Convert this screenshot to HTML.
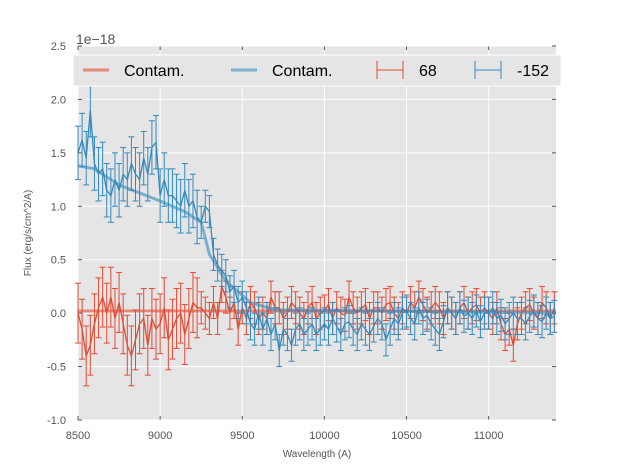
<!DOCTYPE html>
<html><head><meta charset="utf-8"><style>
body{margin:0;background:#fff;font-family:"Liberation Sans",sans-serif}
svg text{font-family:"Liberation Sans",sans-serif}
</style></head><body>
<svg id="c" width="617" height="467"></svg>
<script>
const blueFlux=[1.5,1.62,1.45,1.9,1.4,1.3,1.35,1.15,1.1,1.25,
1.15,1.3,1.25,1.4,1.3,1.25,1.45,1.3,1.55,1.6,
1.1,1.25,1.1,1.1,1.05,1.0,1.15,1.0,1.05,0.9,
0.85,1.0,0.95,0.55,0.45,0.4,0.35,0.2,0.25,0.1,
0.15,0.05,-0.1,-0.15,0.0,-0.15,-0.05,-0.2,-0.1,-0.35,
-0.15,-0.2,-0.3,-0.15,-0.1,-0.2,-0.15,-0.1,-0.2,-0.15,
-0.1,-0.15,-0.05,-0.12,-0.2,-0.1,-0.08,-0.15,-0.2,-0.1,
-0.15,-0.2,-0.12,-0.05,-0.1,-0.25,-0.15,-0.05,-0.1,0.0,
0.02,-0.05,-0.1,0.05,-0.05,-0.02,-0.1,-0.15,-0.2,-0.08,
0.05,0.0,-0.05,0.05,-0.03,0.0,-0.05,0.02,-0.08,0.0,
0.0,0.05,-0.05,-0.02,-0.1,-0.05,0.0,-0.05,-0.05,-0.1,
-0.03,0.02,-0.05,-0.08,0.0,-0.05,-0.03];
const redFlux=[0.0,-0.15,-0.4,-0.3,-0.1,0.05,0.15,0.0,0.15,-0.05,
0.1,-0.1,-0.3,-0.4,-0.25,-0.1,-0.05,-0.3,-0.05,-0.15,
-0.1,0.05,-0.25,-0.15,-0.05,0.0,-0.2,-0.05,0.1,0.05,
0.05,0.0,-0.05,0.1,-0.05,0.25,0.15,0.0,0.1,-0.15,
0.05,-0.05,0.1,0.05,-0.05,0.0,-0.05,0.15,0.05,0.05,
-0.05,0.0,0.1,0.05,0.0,-0.05,0.05,0.1,-0.05,0.0,
0.02,0.08,-0.05,0.05,0.0,-0.02,0.15,0.05,0.0,0.05,
0.08,-0.05,0.05,0.05,0.0,0.08,0.1,0.0,-0.05,0.05,
0.0,0.1,0.05,0.15,0.08,0.0,0.05,0.1,0.05,-0.05,
0.05,0.0,-0.05,0.05,0.1,0.0,0.05,0.08,0.0,0.05,
0.0,-0.05,0.05,-0.1,-0.2,-0.15,-0.3,-0.1,0.0,0.05,
0.08,0.0,-0.05,0.1,0.05,-0.05,0.05];
const blueErr=[0.25,0.15];
const redErr=[0.28,0.15];
const contamWave=[8500,8600,8750,9000,9150,9250,9300,9400,9550,9700,11410];
const blueContam=[1.38,1.35,1.2,1.05,0.95,0.85,0.55,0.3,0.1,0.03,0.0];
const redContam=[0.02,0.02];
const xTicks=[8500,9000,9500,10000,10500,11000];
const yTicks=[-1.0,-0.5,0.0,0.5,1.0,1.5,2.0,2.5];
const wave0=8500, step=25;

const NS="http://www.w3.org/2000/svg", svg=document.getElementById('c');
const L=78,R=556,T=46,B=420, X0=8500,X1=11410,Y0=-1,Y1=2.5;
const sx=v=>L+(v-X0)/(X1-X0)*(R-L), sy=v=>B-(v-Y0)/(Y1-Y0)*(B-T);
function el(t,a,p){const e=document.createElementNS(NS,t);for(const k in a)e.setAttribute(k,a[k]);(p||svg).appendChild(e);return e;}
const bg=el('rect',{x:L,y:T,width:R-L,height:B-T,fill:'#e5e5e5'});


xTicks.forEach(v=>{const x=sx(v);
 const g=el('line',{x1:x,x2:x,y1:T,y2:B,stroke:'#fff','stroke-width':1});
 
 
 el('line',{x1:x,x2:x,y1:B,y2:B-4,stroke:'#555'});el('line',{x1:x,x2:x,y1:T,y2:T+4,stroke:'#555'});
 const t=el('text',{x:x,y:B+19,'text-anchor':'middle','font-size':11,fill:'#555'});t.textContent=v;
 
 });
yTicks.forEach(v=>{const y=sy(v);
 const g=el('line',{x1:L,x2:R,y1:y,y2:y,stroke:'#fff','stroke-width':1});
 
 
 el('line',{x1:L,x2:L+4,y1:y,y2:y,stroke:'#555'});el('line',{x1:R,x2:R-4,y1:y,y2:y,stroke:'#555'});
 const t=el('text',{x:L-12,y:y+4,'text-anchor':'end','font-size':11,fill:'#555'});t.textContent=v.toFixed(1);
 
 });
function series(arr,err,col,name){
 const g=el('g',{});
 
 
 let d='';
 arr.forEach((v,i)=>{const w=wave0+i*step,x=sx(w),e=w<9250?err[0]:err[1];
  const y1=sy(v+e),y2=sy(v-e);
  el('line',{x1:x,x2:x,y1:y1,y2:y2,stroke:col,'stroke-width':1},g);
  el('line',{x1:x-3,x2:x+3,y1:y1,y2:y1,stroke:col,'stroke-width':1},g);
  el('line',{x1:x-3,x2:x+3,y1:y2,y2:y2,stroke:col,'stroke-width':1},g);
  d+=(i?'L':'M')+x.toFixed(1)+','+sy(v).toFixed(1);});
 el('path',{d:d,fill:'none',stroke:col,'stroke-width':1.3},g);}
let rc=el('path',{d:'M'+sx(X0)+','+sy(redContam[0])+'L'+sx(X1)+','+sy(redContam[1]),stroke:'#E24A33','stroke-opacity':0.6,'stroke-width':3,fill:'none'});


series(redFlux,redErr,'#E24A33','red-series-68');
series(blueFlux,blueErr,'#348ABD','blue-series-152');
let bc=el('path',{d:contamWave.map((w,i)=>(i?'L':'M')+sx(w)+','+sy(blueContam[i])).join(''),stroke:'#348ABD','stroke-opacity':0.6,'stroke-width':3,fill:'none','stroke-linejoin':'round'});


const lg=el('g',{});


el('rect',{x:73,y:55,width:488,height:31,fill:'#e5e5e5',stroke:'#fff','stroke-width':1},lg);
el('line',{x1:83,x2:109,y1:70,y2:70,stroke:'#E24A33','stroke-opacity':0.6,'stroke-width':3},lg);
el('line',{x1:231,x2:257,y1:70,y2:70,stroke:'#348ABD','stroke-opacity':0.6,'stroke-width':3},lg);
[[377,'#E24A33'],[475,'#348ABD']].forEach(([x,c])=>{
 el('line',{x1:x,x2:x+26,y1:70,y2:70,stroke:c},lg);
 el('line',{x1:x,x2:x,y1:61,y2:79,stroke:c},lg);
 el('line',{x1:x+26,x2:x+26,y1:61,y2:79,stroke:c},lg);});
[[124,'Contam.'],[272,'Contam.'],[419,'68'],[517,'-152']].forEach(([x,s])=>{
 const t=el('text',{x:x,y:76,'font-size':16,fill:'#000'},lg);t.textContent=s;
 
 });
const ex=el('text',{x:76,y:44,'font-size':14,fill:'#555'});ex.textContent='1e\u221218';


const xt=el('text',{x:317,y:457,'text-anchor':'middle','font-size':10,fill:'#555'});xt.textContent='Wavelength (A)';


const yt=el('text',{x:31,y:233,'text-anchor':'middle','font-size':10,fill:'#555',transform:'rotate(-90 31 233)'});yt.textContent='Flux (erg/s/cm^2/A)';


</script>
</body></html>
